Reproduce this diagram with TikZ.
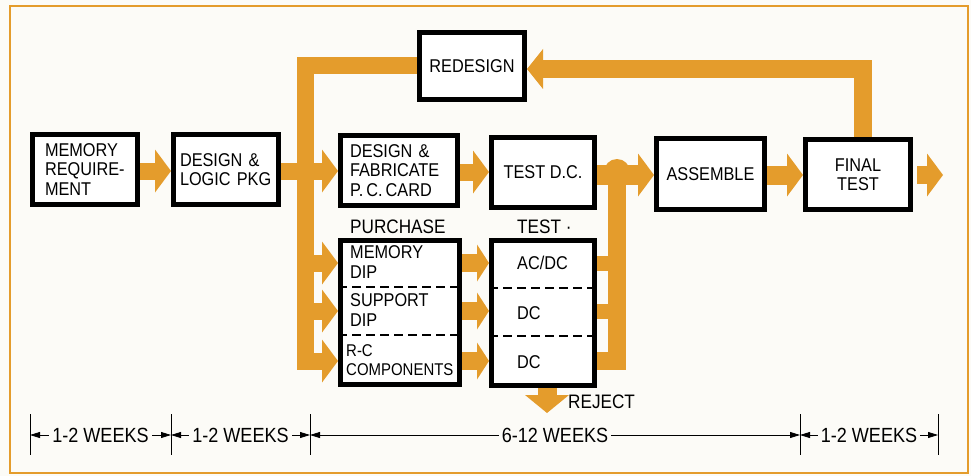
\documentclass[tikz,border=0pt]{standalone}
\usepackage{fontspec}
\setmainfont{Liberation Sans}
\newfontfamily\boxfont{Liberation Sans}[FakeStretch=0.88]
\usetikzlibrary{arrows.meta}
\definecolor{flow}{RGB}{228,156,44}
\definecolor{paper}{RGB}{252,251,247}
\newcommand\bxtxt{\boxfont\fontsize{18.5}{19.5}\selectfont}
\newcommand\smtxt{\boxfont\fontsize{17}{19.5}\selectfont}
\newcommand\lbtxt{\boxfont\fontsize{19.5}{20}\selectfont}
\newcommand\dmtxt{\boxfont\fontsize{20.5}{21}\selectfont}
\begin{document}
\begin{tikzpicture}[x=1pt,y=-1pt,
  box/.style={draw=black,line width=5pt,fill=white,inner xsep=0pt,inner ysep=0pt,font=\bxtxt,align=center},
  ltxt/.style={font=\bxtxt,align=left,anchor=west,inner sep=0pt},
  flowln/.style={draw=flow,line width=17pt,line join=miter},
  bighead/.style={-{Triangle[width=43pt,length=16pt,line width=0pt]}},
  smallhead/.style={-{Triangle[width=37pt,length=12pt,line width=0pt]}},
  dimln/.style={draw=black,line width=0.8pt,{Triangle[length=10pt,width=6pt]}-{Triangle[length=10pt,width=6pt]}},
  dimtxt/.style={font=\dmtxt,fill=paper,inner xsep=3pt,inner ysep=1pt},
  tickln/.style={draw=black,line width=0.9pt},
  sepln/.style={draw=black,line width=1.3pt,dash pattern=on 9pt off 5pt}
]
\useasboundingbox (0,0) rectangle (971,476);
\fill[paper] (0,0) rectangle (971,476);
\draw[flow,line width=2pt] (10,6) rectangle (968,473);

% boxes
\node[box,align=left,text width=80pt,inner xsep=12.5pt,minimum height=70pt] (mem) at (85,169.5) {MEMORY\\REQUIRE-\\MENT};
\node[box,align=left,text width=92pt,inner xsep=6.5pt,minimum height=70pt] (logic) at (226,169.5) {DESIGN \&\\LOGIC PKG};
\node[box,align=left,text width=98pt,inner xsep=9.5pt,minimum height=70pt] (fab) at (399,170.5) {DESIGN \&\\FABRICATE\\P.\,C.\,CARD};
\node[box,minimum width=103pt,minimum height=70pt] (testdc) at (543,172.5) {TEST D.C.};
\node[box,minimum width=105pt,minimum height=67pt] (redesign) at (472,66) {REDESIGN};
\node[box,minimum width=108pt,minimum height=71pt] (assemble) at (710.5,174) {ASSEMBLE};
\node[box,minimum width=105pt,minimum height=70pt] (final) at (858,174.5) {FINAL\\TEST};
\node[box,minimum width=119pt,minimum height=144pt] (purchase) at (400,312.5) {};
\node[box,minimum width=103pt,minimum height=145pt] (testbox) at (543,313) {};

% dashed separators
\draw[sepln] (purchase.west |- 0,287) -- (purchase.east |- 0,287);
\draw[sepln] (purchase.west |- 0,335) -- (purchase.east |- 0,335);
\draw[sepln] (testbox.west |- 0,288) -- (testbox.east |- 0,288);
\draw[sepln] (testbox.west |- 0,336) -- (testbox.east |- 0,336);

% texts in split boxes
\node[ltxt] (pmem) at (350,262) {MEMORY\\DIP};
\node[ltxt] (psup) at (350,310) {SUPPORT\\DIP};
\node[ltxt,font=\smtxt] (prc) at (346,360) {R-C\\COMPONENTS};
\node[ltxt] (tac) at (517,263) {AC/DC};
\node[ltxt] (tdca) at (517,313) {DC};
\node[ltxt] (tdcb) at (517,362) {DC};
\node[ltxt,font=\lbtxt] (plabel) at (350,227) {PURCHASE};
\node[ltxt,font=\lbtxt] (tlabel) at (517,227) {TEST ·};
\node[ltxt,font=\lbtxt] (reject) at (568,402) {REJECT};

% coordinates
\coordinate (yA) at (0,171);
\coordinate (yB) at (0,172);
\coordinate (yC) at (0,175);
\coordinate (r1) at (0,263);
\coordinate (r2) at (0,311);
\coordinate (r3) at (0,361);
\coordinate (busTop) at (305,66);
\coordinate (busBot) at (305,361);
\coordinate (rbus) at (617,361);
\coordinate (rbTop) at (617,175);
\coordinate (fbTop) at (862.5,69);
\coordinate (outEnd) at (943,175);
\coordinate (rejEnd) at (547,413);

% flow connectors
\draw[flowln,bighead] (mem.east |- yA) -- (logic.west |- yA);
\draw[flowln,bighead] (logic.east |- yA) -- (fab.west |- yA);
\draw[flowln,bighead] (redesign.west) -- (busTop) -- (busBot) -- (purchase.west |- r3);
\draw[flowln,bighead] (busBot |- r1) -- (purchase.west |- r1);
\draw[flowln,bighead] (busBot |- r2) -- (purchase.west |- r2);
\draw[flowln,bighead] (fab.east |- yB) -- (testdc.west |- yB);
\draw[flowln,line width=18pt,smallhead] (purchase.east |- r1) -- (testbox.west |- r1);
\draw[flowln,line width=18pt,smallhead] (purchase.east |- r2) -- (testbox.west |- r2);
\draw[flowln,line width=18pt,smallhead] (purchase.east |- r3) -- (testbox.west |- r3);
\draw[flowln,line width=15pt] (testbox.east |- r1) -- (rbus |- r1);
\draw[flowln,line width=15pt] (testbox.east |- r2) -- (rbus |- r2);
\draw[flowln,line width=18pt] (testbox.east |- r3) -- (rbus) -- (rbTop);
\fill[flow] (617,172) circle (13pt);
\draw[flowln,line width=20pt,bighead] (testdc.east |- yC) -- (assemble.west |- yC);
\draw[flowln,line width=19pt,bighead] (assemble.east |- yC) -- (final.west |- yC);
\draw[flowln,line width=18pt,bighead,shorten <=4pt] (final.east |- yC) -- (outEnd);
\draw[flowln,line width=18pt,-{Triangle[width=40pt,length=16pt,line width=0pt]}] (final.north -| fbTop) -- (fbTop) -- (redesign.east |- fbTop);
\draw[flowln,line width=19pt,-{Triangle[width=44pt,length=18pt,line width=0pt]}] (testbox.south -| rejEnd) -- (rejEnd);

% time scale
\coordinate (d0) at (30,435);
\coordinate (d1) at (171,435);
\coordinate (d2) at (310,435);
\coordinate (d3) at (800,435);
\coordinate (d4) at (938,435);
\foreach \d in {d0,d1,d2,d3,d4}
  \draw[tickln] ([yshift=21pt]\d) -- ([yshift=-20pt]\d);
\draw[dimln] (d0) -- node[dimtxt] (w1) {1-2 WEEKS} (d1);
\draw[dimln] (d1) -- node[dimtxt] (w2) {1-2 WEEKS} (d2);
\draw[dimln] (d2) -- node[dimtxt] (w3) {6-12 WEEKS} (d3);
\draw[dimln] (d3) -- node[dimtxt] (w4) {1-2 WEEKS} (d4);
\end{tikzpicture}
\end{document}
